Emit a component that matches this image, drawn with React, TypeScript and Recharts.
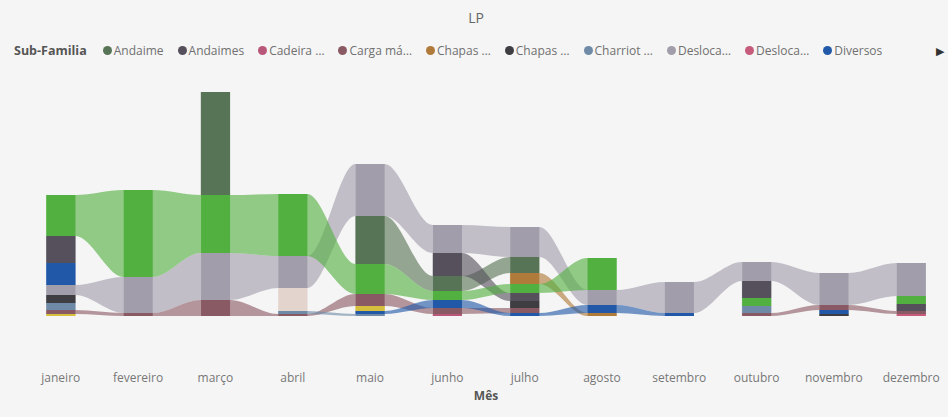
import React from 'react';
import { ComposedChart, Area, Bar, Cell, XAxis, YAxis, Label } from 'recharts';

// Months on the category axis
const months = [
  'janeiro', 'fevereiro', 'março', 'abril', 'maio', 'junho',
  'julho', 'agosto', 'setembro', 'outubro', 'novembro', 'dezembro',
];

// Monthly totals per sub-family
const andaime = [0, 0, 103, 0, 48, 15, 16, 0, 0, 0, 0, 0];
const andaimes = [27, 0, 0, 0, 0, 23, 8, 0, 0, 17, 0, 7];
const cadeira = [0, 0, 0, 0, 0, 2, 0, 0, 0, 0, 0, 0];
const cargaMa = [4, 3, 16, 2, 12, 6, 5, 0, 0, 3, 5, 3];
const chapasA = [0, 0, 0, 0, 0, 0, 11, 3, 0, 0, 0, 0];
const chapasB = [8, 0, 0, 0, 0, 0, 7, 0, 0, 0, 2, 0];
const charriot = [7, 0, 0, 3, 2, 0, 0, 0, 0, 7, 0, 0];
const deslocaA = [10, 36, 47, 32, 52, 28, 30, 15, 31, 19, 32, 33];
const deslocaB = [0, 0, 0, 0, 0, 0, 0, 0, 0, 0, 0, 2];
const diversos = [22, 0, 0, 0, 3, 8, 3, 8, 3, 0, 4, 0];
const escoras = [0, 0, 0, 23, 0, 0, 0, 0, 0, 0, 0, 0];
const ferramentas = [2, 0, 0, 0, 5, 0, 0, 0, 0, 0, 0, 0];
const plataformas = [41, 87, 58, 62, 30, 9, 9, 32, 0, 8, 0, 8];

// Legend labels (as truncated by the legend) and series colours
const seriesLabels = [
  'Andaime', 'Andaimes', 'Cadeira …', 'Carga má…', 'Chapas …', 'Chapas …',
  'Charriot …', 'Desloca…', 'Desloca…', 'Diversos', 'Escoras', 'Ferramentas', 'Plataformas',
];
const seriesColors = [
  '#587456', '#55505c', '#b9577a', '#8a5a64', '#b07a3a', '#3e3d42',
  '#6f8aa6', '#a29dab', '#c65b7b', '#2158a8', '#e3d5cd', '#d6bf3c', '#52b041',
];
const seriesValues = [
  andaime, andaimes, cadeira, cargaMa, chapasA, chapasB,
  charriot, deslocaA, deslocaB, diversos, escoras, ferramentas, plataformas,
];
const legendCount = 10;
// ribbons painted back to front
const ribbonOrder = [7, 0, 1, 2, 3, 4, 5, 6, 8, 9, 10, 11, 12];

const HALF = 0.19; // half the bar width, in category units
const BAR_PX = 29; // the same bar width in pixels

// Rank each month: the largest value sits on top of the stack
const stacks = months.map((_, m) => {
  const present = seriesValues
    .map((vals, i) => ({ i, v: vals[m] }))
    .filter((d) => d.v > 0)
    .sort((a, b) => a.v - b.v || b.i - a.i);
  const pos: Record<number, [number, number]> = {};
  let acc = 0;
  present.forEach((d) => {
    pos[d.i] = [acc, acc + d.v];
    acc += d.v;
  });
  return { present, pos, total: acc };
});

const maxTotal = Math.max(...stacks.map((s) => s.total));
const slotCount = Math.max(...stacks.map((s) => s.present.length));

type Row = Record<string, any>;
const rows: Row[] = [];
stacks.forEach((st, m) => {
  [-HALF, 0, HALF].forEach((off) => {
    const row: Row = { x: m + off };
    seriesValues.forEach((_, i) => {
      row[`r${i}`] = st.pos[i] ?? null;
    });
    if (off === 0) {
      row.slotColors = st.present.map((d) => seriesColors[d.i]);
      for (let k = 0; k < slotCount; k++) {
        row[`b${k}`] = st.present[k] ? st.present[k].v : undefined;
      }
    } else {
      row.slotColors = [];
    }
    rows.push(row);
  });
});

// Stacked segment, centred on its month and widened to the bar width
const BarBlock = (p: any) => {
  if (!p.height || !Number.isFinite(p.y) || !Number.isFinite(p.x)) return null;
  return (
    <rect
      x={p.x + p.width / 2 - BAR_PX / 2}
      y={p.y}
      width={BAR_PX}
      height={p.height}
      fill={p.fill}
    />
  );
};

const FONT = "'Segoe UI', 'Open Sans', 'Noto Sans', sans-serif";

export default function App() {
  return (
    <div
      style={{
        position: 'absolute',
        left: 0,
        top: 0,
        width: 948,
        height: 417,
        background: '#f5f5f5',
        fontFamily: FONT,
        overflow: 'hidden',
      }}
    >
      <div
        style={{
          position: 'absolute',
          top: 8,
          left: 0,
          width: 952,
          textAlign: 'center',
          fontSize: 14,
          color: '#666',
        }}
      >
        LP
      </div>
      <div
        style={{
          position: 'absolute',
          top: 42,
          left: 14,
          display: 'flex',
          alignItems: 'center',
          fontSize: 12,
          color: '#707070',
          whiteSpace: 'nowrap',
        }}
      >
        <span style={{ fontWeight: 700, color: '#555', marginRight: 16, fontSize: 12.5 }}>Sub-Familia</span>
        {seriesLabels.slice(0, legendCount).map((label, i) => (
          <span key={i} style={{ display: 'flex', alignItems: 'center', marginRight: 14 }}>
            <span
              style={{
                width: 9,
                height: 9,
                borderRadius: '50%',
                background: seriesColors[i],
                marginRight: 2,
                display: 'inline-block',
              }}
            />
            {label}
          </span>
        ))}
      </div>
      <div style={{ position: 'absolute', top: 43, left: 936, fontSize: 11, color: '#333' }}>▶</div>
      <ComposedChart
        width={948}
        height={417}
        data={rows}
        margin={{ top: 92, right: 2, left: 26, bottom: 41 }}
        style={{ position: 'absolute', left: 0, top: 0 }}
      >
        <XAxis
          type="number"
          dataKey="x"
          domain={[-0.45, 11.45]}
          allowDataOverflow
          ticks={months.map((_, i) => i)}
          tickFormatter={(v: number) => months[v] ?? ''}
          axisLine={false}
          tickLine={false}
          tickMargin={51}
          height={60}
          interval={0}
          tick={{ fill: '#777', fontSize: 12, fontFamily: FONT }}
        >
          <Label
            value="Mês"
            position="insideBottom"
            offset={-24}
            style={{ fill: '#555', fontSize: 12, fontWeight: 700, fontFamily: FONT }}
          />
        </XAxis>
        <YAxis hide domain={[0, maxTotal]} allowDataOverflow />
        {ribbonOrder.map((i) => (
          <Area
            key={`r${i}`}
            dataKey={`r${i}`}
            type="monotoneX"
            stroke="none"
            fill={seriesColors[i]}
            fillOpacity={0.62}
            connectNulls={false}
            isAnimationActive={false}
            dot={false}
            activeDot={false}
          />
        ))}
        {Array.from({ length: slotCount }, (_, k) => (
          <Bar
            key={`b${k}`}
            dataKey={`b${k}`}
            stackId="bars"
            shape={BarBlock}
            isAnimationActive={false}
          >
            {rows.map((row, j) => (
              <Cell key={j} fill={row.slotColors[k] ?? 'none'} />
            ))}
          </Bar>
        ))}
      </ComposedChart>
    </div>
  );
}
